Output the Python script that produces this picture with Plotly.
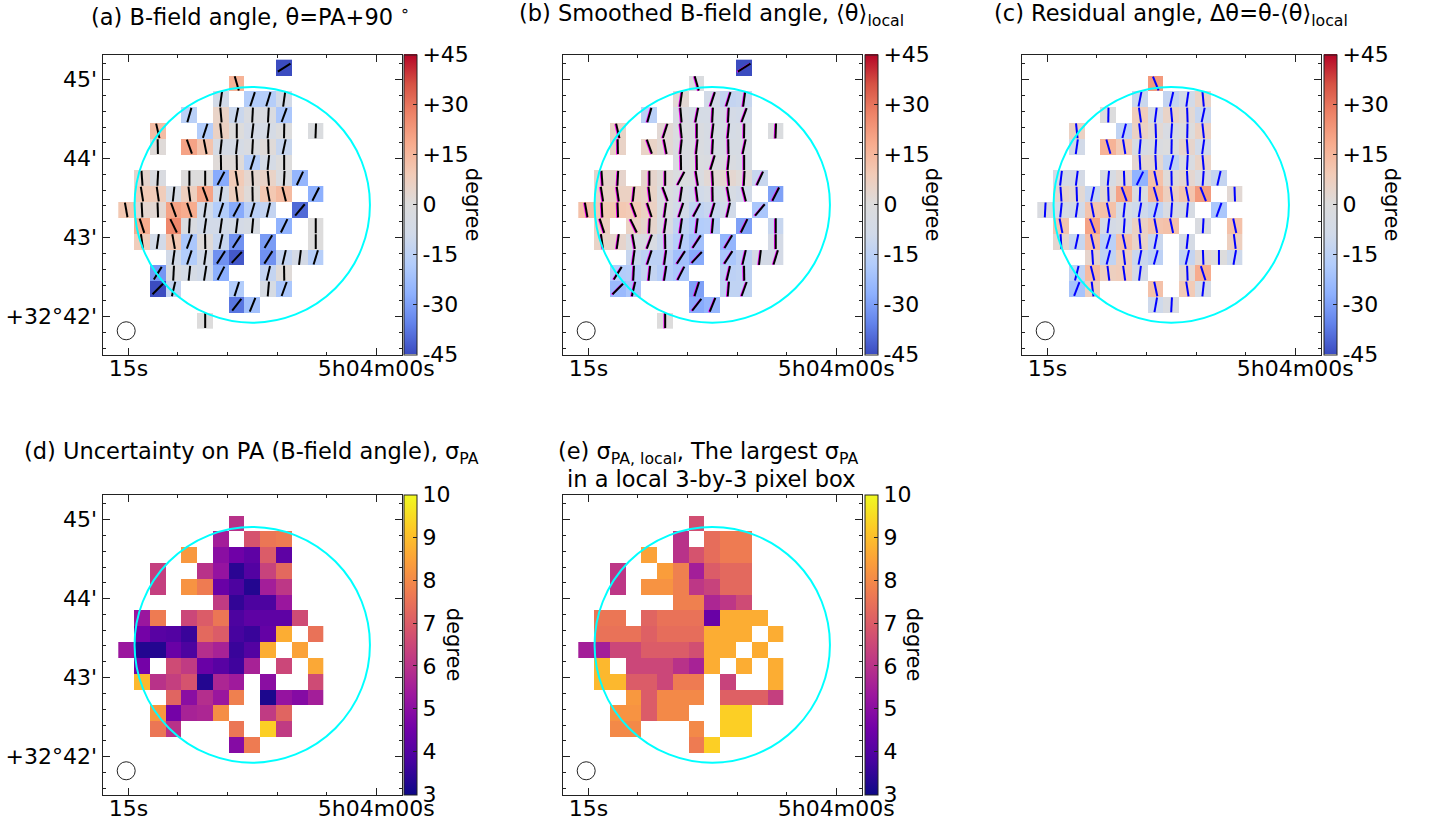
import math
import plotly.graph_objects as go

N = None
# Pixel grid: 13 columns x 17 rows, values in degrees
theta = [
 [N,N,N,N,N,N,N,N,N,N,-58,N,N],
 [N,N,N,N,N,N,N,16,N,N,N,N,N],
 [N,N,N,N,N,N,-8,N,-18,-17,-8,N,N],
 [N,N,N,N,-16,N,5,-11,-3,-3,-20,N,N],
 [N,N,13,N,N,-18,6,0,-7,-6,-1,N,-2],
 [N,N,1,N,20,11,-6,-6,-3,1,-12,N,N],
 [N,N,N,N,N,N,1,1,-17,-6,0,N,N],
 [N,4,-3,N,0,0,-28,9,3,5,-3,-25,N],
 [N,9,8,-6,7,20,-8,7,1,10,14,N,-27],
 [10,3,2,20,18,-8,-18,-28,-16,-13,N,-40,N],
 [N,18,N,26,-3,-8,-8,-7,-5,N,-26,N,0],
 [N,8,-8,10,-20,1,-12,-33,N,-31,N,N,0],
 [N,N,N,-8,-18,-8,-33,-43,N,-33,-13,-7,-17],
 [N,N,-32,-3,-6,-9,-27,N,N,-13,1,N,N],
 [N,N,-45,-13,N,N,N,-18,N,-5,-20,N,N],
 [N,N,N,N,N,N,N,-38,-22,N,N,N,N],
 [N,N,N,N,N,0,N,N,N,N,N,N,N],
]
theta_local = [
 [N,N,N,N,N,N,N,N,N,N,-58,N,N],
 [N,N,N,N,N,N,N,-2,N,N,N,N,N],
 [N,N,N,N,N,N,2,N,-8,-13,-12,N,N],
 [N,N,N,N,-16,N,-4,-6,-6,-7,-8,N,N],
 [N,N,5,N,N,2,-2,-3,-5,-6,-5,N,-2],
 [N,N,5,N,5,2,-3,-3,-5,-5,-5,N,N],
 [N,N,N,N,N,N,-3,-2,-3,-3,-5,N,N],
 [N,4,4,N,4,1,-2,-3,2,3,1,-12,N],
 [N,5,6,6,5,-2,-6,-9,-6,-5,-8,N,-30],
 [12,9,10,9,6,-2,-8,-14,-12,-9,N,-20,N],
 [N,7,N,6,4,-4,-14,-18,-17,N,-30,N,-12],
 [N,5,4,-3,-4,-11,-17,-22,N,-25,N,N,-7],
 [N,N,N,-12,-15,-15,-22,-28,N,-20,-15,-7,-7],
 [N,N,-18,-17,-13,-17,-20,N,N,-15,-14,N,N],
 [N,N,-24,-20,N,N,N,-30,N,-14,-14,N,N],
 [N,N,N,N,N,N,N,-28,-25,N,N,N,N],
 [N,N,N,N,N,0,N,N,N,N,N,N,N],
]
delta = [
 [N,N,N,N,N,N,N,N,N,N,N,N,N],
 [N,N,N,N,N,N,N,22,N,N,N,N,N],
 [N,N,N,N,N,N,-11,N,-13,-8,5,N,N],
 [N,N,N,N,-1,N,8,-7,5,2,-12,N,N],
 [N,N,6,N,N,-14,6,2,-4,-1,6,N,N],
 [N,N,-8,N,16,9,-5,-3,-1,4,-8,N,N],
 [N,N,N,N,N,N,3,3,-14,-3,5,N,N],
 [N,-7,-7,N,-5,2,-26,12,1,3,-4,-13,N],
 [N,4,2,-12,2,20,-2,16,7,11,22,N,2],
 [-3,-6,-8,11,12,-6,-10,-14,-4,-5,N,-20,N],
 [N,11,N,20,-7,-4,6,11,12,N,-3,N,12],
 [N,3,-12,13,-16,12,5,-11,N,-6,N,N,7],
 [N,N,N,4,-14,7,-11,-15,N,-13,2,0,-10],
 [N,N,-14,14,7,8,-7,N,N,2,18,N,N],
 [N,N,-21,7,N,N,N,12,N,9,-6,N,N],
 [N,N,N,N,N,N,N,-10,-3,N,N,N,N],
 [N,N,N,N,N,N,N,N,N,N,N,N,N],
]
sigma_pa = [
 [N,N,N,N,N,N,N,N,N,N,N,N,N],
 [N,N,N,N,N,N,N,6.0,N,N,N,N,N],
 [N,N,N,N,N,N,5.5,N,6.8,7.6,7.7,N,N],
 [N,N,N,N,8.3,N,5.0,4.5,4.2,7.0,4.2,N,N],
 [N,N,6.3,N,N,6.0,5.2,3.4,4.0,6.4,7.3,N,N],
 [N,N,6.3,N,8.2,7.7,4.4,3.9,3.3,5.5,6.1,N,N],
 [N,N,N,N,N,N,6.2,3.5,3.9,3.9,5.3,N,N],
 [N,5.3,7.7,N,6.5,7.0,7.6,3.9,4.2,4.2,4.2,6.6,N],
 [N,4.6,4.1,4.0,3.6,7.3,7.0,3.8,3.6,4.3,8.7,N,7.5],
 [5.3,3.3,3.3,4.4,3.9,5.9,5.6,3.6,4.0,8.7,N,8.5,N],
 [N,4.6,N,6.6,6.2,4.4,4.1,3.7,5.6,N,6.5,N,8.6],
 [N,8.9,6.0,6.3,6.8,3.3,5.7,5.4,N,5.0,N,N,6.6],
 [N,N,N,7.2,5.0,5.9,5.3,7.8,N,3.2,5.2,4.9,5.5],
 [N,N,8.3,4.6,5.6,5.7,8.1,N,N,6.2,7.2,N,N],
 [N,N,7.6,6.0,N,N,N,7.6,N,9.3,6.2,N,N],
 [N,N,N,N,N,N,N,4.9,7.7,N,N,N,N],
 [N,N,N,N,N,N,N,N,N,N,N,N,N],
]
sigma_local = [
 [N,N,N,N,N,N,N,N,N,N,N,N,N],
 [N,N,N,N,N,N,N,6.7,N,N,N,N,N],
 [N,N,N,N,N,N,6.0,N,7.4,7.7,7.7,N,N],
 [N,N,N,N,8.5,N,6.0,6.8,7.4,7.7,7.7,N,N],
 [N,N,6.1,N,N,8.4,7.8,5.5,7.0,7.3,7.3,N,N],
 [N,N,6.1,N,8.2,8.2,7.8,6.1,6.4,7.3,7.3,N,N],
 [N,N,N,N,N,N,7.8,7.8,5.7,6.1,6.6,N,N],
 [N,7.6,7.6,N,7.2,7.5,7.5,7.5,4.4,8.7,8.7,8.7,N],
 [N,7.5,7.5,7.5,7.1,7.4,7.4,7.4,8.7,8.7,8.7,N,8.7],
 [5.5,5.5,6.5,6.5,7.0,7.0,7.0,6.7,8.7,8.7,N,8.7,N],
 [N,8.9,N,6.5,6.5,6.5,6.0,5.6,8.7,N,8.7,N,8.7],
 [N,8.9,8.9,7.0,7.0,6.5,7.7,7.7,N,6.4,N,N,8.7],
 [N,N,N,8.3,7.0,8.0,8.0,8.0,N,7.1,7.1,7.1,6.3],
 [N,N,8.2,8.2,7.0,8.0,8.0,N,N,9.3,9.3,N,N],
 [N,N,8.0,8.0,N,N,N,8.0,N,9.3,9.3,N,N],
 [N,N,N,N,N,N,N,7.7,9.3,N,N,N,N],
 [N,N,N,N,N,N,N,N,N,N,N,N,N],
]

x_major = [1.647, 17.33]
x_major_text = ["15s", "5h04m00s"]
x_minor = [4.77, 7.92, 11.06, 14.2]
y_major = [1.267, 6.25, 11.25, 16.23]
y_major_text = ["45'", "44'", "43'", "+32°42'"]
y_minor = [0.267, 2.267, 3.267, 4.267, 5.267, 7.25, 8.25, 9.25, 10.25, 12.25, 13.25, 14.25, 15.25, 17.23, 18.23]
angle_ticks = [-45, -30, -15, 0, 15, 30, 45]
angle_text = ["-45", "-30", "-15", "0", "+15", "+30", "+45"]
sigma_ticks = [3, 4, 5, 6, 7, 8, 9, 10]

coolwarm = [[0, "#3b4cc0"], [0.1, "#6282ea"], [0.2, "#8db0fe"], [0.3, "#b3cdfb"], [0.4, "#d1dae9"],
            [0.5, "#dddcdc"], [0.6, "#f2cbb7"], [0.7, "#f7ac8e"], [0.8, "#ee8468"], [0.9, "#d65244"], [1, "#b40426"]]
plasma = "Plasma"
FONT = "DejaVu Sans"
W, H = 1434, 825
AX = 299.5
XR = [0, 18.96]
YR = [18.64, -0.296]
cols = [j + 1.5 for j in range(13)]
rows = [i + 0.5 for i in range(17)]
circle = (9.48, 9.18, 7.45)
beam = (1.5, 17.14, 0.57)


def segs(grid, half=0.47, dx=0.0, dy=0.0):
    xs, ys = [], []
    for i, row in enumerate(grid):
        for j, a in enumerate(row):
            if a is None:
                continue
            r = math.radians(a)
            cx, cy = cols[j] + dx, rows[i] + dy
            xs += [cx - half * math.sin(r), cx + half * math.sin(r), None]
            ys += [cy - half * math.cos(r), cy + half * math.cos(r), None]
    return xs, ys


panels = [
    dict(z=theta, left=102.5, top=55, cs=coolwarm, zr=(-45, 45), tv=angle_ticks, tt=angle_text, ylab=True,
         deg=473, lines=[(theta, "black", 0, 0, 2)]),
    dict(z=theta_local, left=562.5, top=55, cs=coolwarm, zr=(-45, 45), tv=angle_ticks, tt=angle_text, ylab=False,
         deg=933, lines=[(theta, "#ff00ff", -0.05, 0.02, 2), (theta, "black", 0, 0, 2)]),
    dict(z=delta, left=1021.5, top=55, cs=coolwarm, zr=(-45, 45), tv=angle_ticks, tt=angle_text, ylab=False,
         deg=1392, lines=[(delta, "#0000ff", 0, 0, 2)]),
    dict(z=sigma_pa, left=102.5, top=495, cs=plasma, zr=(3, 10), tv=sigma_ticks, tt=[str(v) for v in sigma_ticks], ylab=True,
         deg=454, lines=[]),
    dict(z=sigma_local, left=562.5, top=495, cs=plasma, zr=(3, 10), tv=sigma_ticks, tt=[str(v) for v in sigma_ticks], ylab=False,
         deg=914, lines=[]),
]

fig = go.Figure()
shapes = []
annotations = []
for n, p in enumerate(panels, start=1):
    sfx = "" if n == 1 else str(n)
    xa, ya = "x" + sfx, "y" + sfx
    bar_top = p["top"]
    fig.add_trace(go.Heatmap(
        z=p["z"], x=cols, y=rows, xaxis=xa, yaxis=ya, colorscale=p["cs"], zmin=p["zr"][0], zmax=p["zr"][1],
        hoverongaps=False,
        colorbar=dict(x=(p["left"] + AX + 2.5) / W, xanchor="left", xpad=0, ypad=0,
                      y=(H - bar_top - AX) / H, yanchor="bottom", len=AX / H, lenmode="fraction",
                      thickness=13, thicknessmode="pixels", outlinewidth=1, outlinecolor="#222",
                      tickmode="array", tickvals=p["tv"], ticktext=p["tt"], ticks="inside", ticklen=4,
                      tickcolor="#222", tickfont=dict(family=FONT, size=22, color="black"))))
    for grid, color, dx, dy, w in p["lines"]:
        xs, ys = segs(grid, dx=dx, dy=dy)
        fig.add_trace(go.Scatter(x=xs, y=ys, mode="lines", xaxis=xa, yaxis=ya, showlegend=False, hoverinfo="skip",
                                 line=dict(color=color, width=w)))
    common = dict(showgrid=False, zeroline=False, showline=True, linecolor="#222", linewidth=1, mirror="ticks",
                  ticks="inside", ticklen=7, tickwidth=1, tickcolor="#222", tickmode="array",
                  tickfont=dict(family=FONT, size=22, color="black"))
    fig.layout["xaxis" + sfx] = dict(common, domain=[p["left"] / W, (p["left"] + AX) / W], range=XR, anchor=ya,
                                     tickvals=x_major, ticktext=x_major_text, ticklabelstandoff=-6,
                                     minor=dict(tickmode="array", tickvals=x_minor, ticks="inside", ticklen=3,
                                                tickcolor="#222", tickwidth=1))
    fig.layout["yaxis" + sfx] = dict(common, domain=[(H - p["top"] - AX) / H, (H - p["top"]) / H], range=YR, anchor=xa,
                                     tickvals=y_major, ticktext=y_major_text, showticklabels=p["ylab"],
                                     minor=dict(tickmode="array", tickvals=y_minor, ticks="inside", ticklen=3,
                                                tickcolor="#222", tickwidth=1))
    cx, cy, r = circle
    shapes.append(dict(type="circle", xref=xa, yref=ya, x0=cx - r, x1=cx + r, y0=cy - r, y1=cy + r,
                       line=dict(color="#00ffff", width=2), layer="above"))
    cx, cy, r = beam
    shapes.append(dict(type="circle", xref=xa, yref=ya, x0=cx - r, x1=cx + r, y0=cy - r, y1=cy + r,
                       line=dict(color="#222", width=1), layer="above"))
    annotations.append(dict(x=p["deg"] / W, y=1 - (p["top"] + AX / 2) / H, xref="paper", yref="paper", text="degree",
                            textangle=90, showarrow=False, xanchor="center", yanchor="middle",
                            font=dict(family=FONT, size=21, color="black")))

titles = [
    (250, 15, "(a) B-field angle, θ=PA+90 <sup>∘</sup>"),
    (711.5, 15, "(b) Smoothed B-field angle, ⟨θ⟩<sub>local</sub>"),
    (1171, 15, "(c) Residual angle, Δθ=θ-⟨θ⟩<sub>local</sub>"),
    (252, 453, "(d) Uncertainty on PA (B-field angle), σ<sub>PA</sub>"),
    (708, 453, "(e) σ<sub>PA, local</sub>, The largest σ<sub>PA</sub>"),
    (711, 479, "in a local 3-by-3 pixel box"),
]
annotations += [dict(x=x / W, y=1 - y / H, xref="paper", yref="paper", text=t, showarrow=False, xanchor="center",
                     yanchor="middle", font=dict(family=FONT, size=22.5, color="black")) for x, y, t in titles]

fig.update_layout(width=W, height=H, autosize=False, margin=dict(l=0, r=0, t=0, b=0, autoexpand=False),
                  paper_bgcolor="white", plot_bgcolor="white", showlegend=False, shapes=shapes,
                  annotations=annotations, font=dict(family=FONT))
fig.write_html("out.html", post_script="document.body.style.margin='0';", config={"displayModeBar": False})
